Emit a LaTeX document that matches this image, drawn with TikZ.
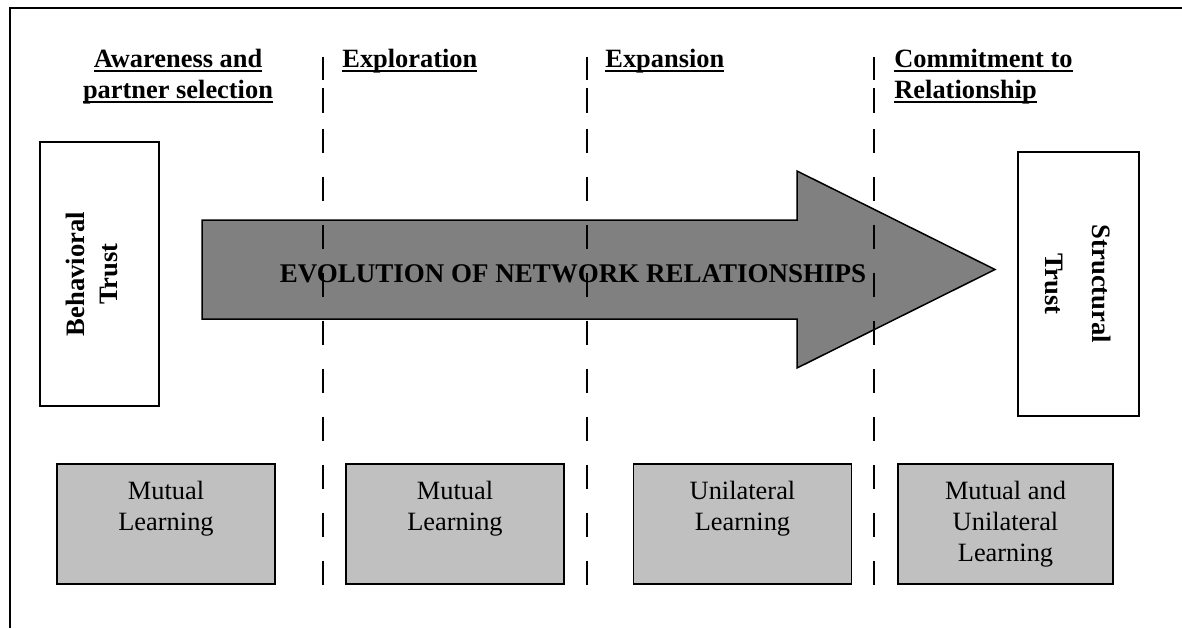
\documentclass[tikz,border=0pt]{standalone}
\usepackage{fontspec}
\setmainfont{Liberation Serif}
\usetikzlibrary{positioning}
\definecolor{arrowgray}{RGB}{128,128,128}
\definecolor{learngray}{RGB}{192,192,192}
% underline at a fixed depth, through the descenders
\newcommand{\phaseul}[1]{\setbox0\hbox{#1}\dp0=0pt\vtop{\box0\kern1.2pt\hrule height0.8pt}}

\begin{document}
\begin{tikzpicture}[x=0.5pt,y=-0.5pt,
  phasetitle/.style={font=\fontsize{13.2}{15.5}\selectfont\bfseries, inner sep=0pt},
  trustbox/.style={draw, line width=0.9pt, fill=white, minimum width=59.5pt, minimum height=132pt, inner sep=0pt},
  trusttext/.style={font=\fontsize{13.3}{16.5}\selectfont\bfseries, align=center, inner sep=0pt},
  learnbox/.style={draw, line width=0.9pt, fill=learngray, minimum width=109pt, minimum height=60pt, inner sep=0pt},
  learntext/.style={font=\fontsize{13.2}{15.5}\selectfont, align=center, inner sep=0pt},
  phaseline/.style={line width=1pt, dash pattern=on 12pt off 12pt}]
\useasboundingbox (0,0) rectangle (1182,628);
%% frame
\draw[line width=0.9pt] (10,628) -- (10,8) -- (1182,8);
%% phase titles
\node[phasetitle, align=center, anchor=north] (awareness) at (178,49) {\phaseul{Awareness and}\\\phaseul{partner selection}};
\node[phasetitle, anchor=north west] (exploration) at (342,49) {\phaseul{Exploration}};
\node[phasetitle, anchor=north west] (expansion) at (605,49) {\phaseul{Expansion}};
\node[phasetitle, align=left, anchor=north west] (commitment) at (894,49) {\phaseul{Commitment to}\\\phaseul{Relationship}};
%% trust boxes
\node[trustbox] (btrust) at (99.5,274) {};
\node[trusttext, rotate=90] (btext) at ([xshift=-4pt]btrust.center) {Behavioral\\Trust};
\node[trustbox, minimum width=60.5pt] (strust) at (1078.5,284) {};
\node[trusttext, rotate=-90] (stext) at (strust.center) {Structural\\[7pt]Trust};
%% big arrow
\draw[line width=0.75pt, fill=arrowgray] (202,220) -- (797,220) -- (797,171) -- (995,269.5)
  -- (797,368) -- (797,319) -- (202,319) -- cycle;
\node[phasetitle, font=\fontsize{13.5}{16}\selectfont\bfseries, anchor=base] (evolution) at (573,282) {EVOLUTION OF NETWORK RELATIONSHIPS};
%% phase separators
\foreach \px in {323,587,874} {
  \draw[phaseline] (\px,585) -- (\px,129);
  \draw[line width=1pt] (\px,57) -- (\px,80) (\px,88) -- (\px,113);
}
%% learning boxes
\node[learnbox] (learn1) at (166,524) {};
\node[learntext, below=9pt of learn1.north] (ltext1) {Mutual\\Learning};
\node[learnbox] (learn2) at (455,524) {};
\node[learntext, below=9pt of learn2.north] (ltext2) {Mutual\\Learning};
\node[learnbox] (learn3) at (742.5,524) {};
\node[learntext, below=9pt of learn3.north] (ltext3) {Unilateral\\Learning};
\node[learnbox, minimum width=107.5pt] (learn4) at (1005.5,524) {};
\node[learntext, below=9pt of learn4.north] (ltext4) {Mutual and\\Unilateral\\Learning};
\end{tikzpicture}
\end{document}
